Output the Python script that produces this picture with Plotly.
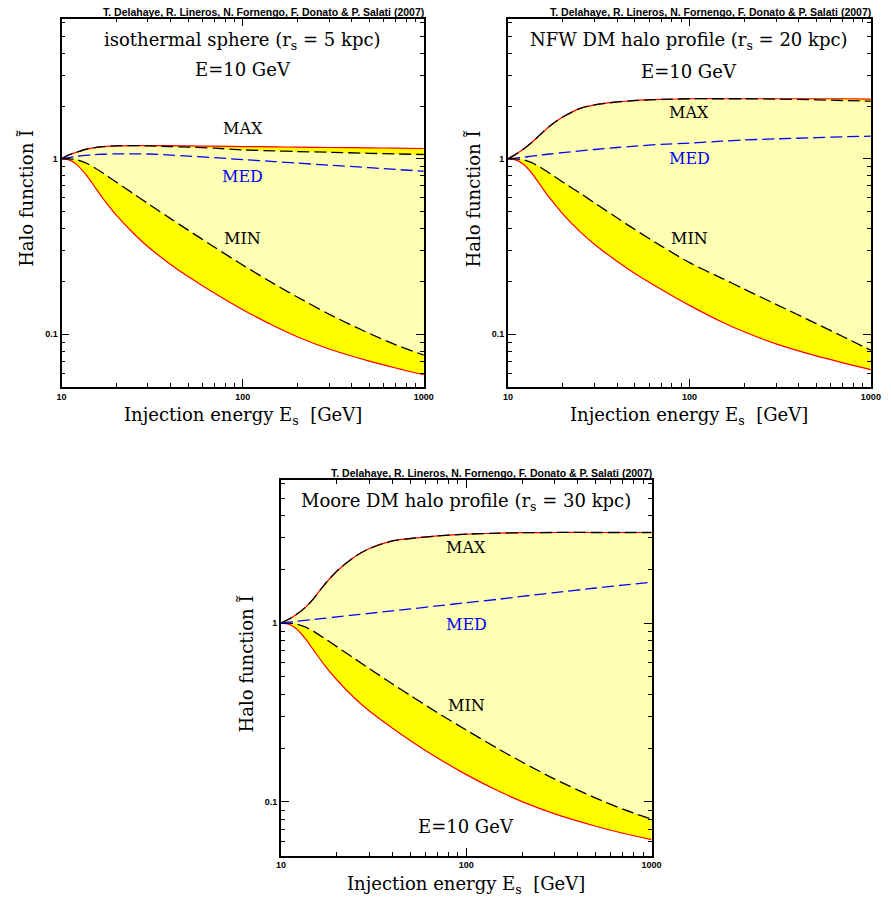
import plotly.graph_objects as go

# ---------------- data ----------------
E = [10, 11, 12, 13.5, 15, 17, 20, 25, 30, 40, 50, 70, 100, 150, 200, 300, 500, 700, 1000]

# isothermal sphere
iso_env_max = [1, 1.054, 1.086, 1.13, 1.155, 1.172, 1.185, 1.19, 1.19, 1.188, 1.185, 1.18, 1.175, 1.17, 1.165, 1.16, 1.155, 1.15, 1.145]
iso_max = [1, 1.054, 1.086, 1.13, 1.155, 1.172, 1.185, 1.19, 1.185, 1.175, 1.165, 1.15, 1.125, 1.11, 1.1, 1.09, 1.075, 1.066, 1.058]
iso_med = [1, 1.015, 1.03, 1.045, 1.055, 1.062, 1.067, 1.068, 1.065, 1.05, 1.035, 1.015, 0.99, 0.965, 0.945, 0.92, 0.89, 0.87, 0.85]
iso_min = [1, 1.0, 0.991, 0.951, 0.898, 0.827, 0.738, 0.632, 0.556, 0.456, 0.392, 0.313, 0.248, 0.193, 0.163, 0.130, 0.101, 0.087, 0.076]
iso_env_min = [1, 0.986, 0.936, 0.822, 0.709, 0.591, 0.479, 0.375, 0.315, 0.25, 0.213, 0.171, 0.138, 0.111, 0.0968, 0.0824, 0.0703, 0.0642, 0.0587]

# NFW
nfw_env_max = [1, 1.06, 1.125, 1.24, 1.37, 1.54, 1.73, 1.94, 2.03, 2.11, 2.15, 2.18, 2.2, 2.2, 2.2, 2.2, 2.2, 2.2, 2.19]
nfw_max = [1, 1.06, 1.125, 1.24, 1.37, 1.54, 1.73, 1.94, 2.03, 2.11, 2.15, 2.18, 2.2, 2.2, 2.2, 2.19, 2.17, 2.15, 2.13]
nfw_med = [1, 1.01, 1.02, 1.035, 1.05, 1.065, 1.085, 1.11, 1.13, 1.16, 1.18, 1.21, 1.23, 1.26, 1.28, 1.30, 1.32, 1.335, 1.346]
nfw_min = [1, 1.0, 0.991, 0.95, 0.897, 0.825, 0.738, 0.636, 0.56, 0.46, 0.395, 0.318, 0.256, 0.209, 0.181, 0.148, 0.115, 0.097, 0.081]
nfw_env_min = [1, 0.986, 0.94, 0.83, 0.712, 0.596, 0.486, 0.383, 0.325, 0.26, 0.222, 0.18, 0.146, 0.1178, 0.1032, 0.0881, 0.0752, 0.0687, 0.0628]

# Moore
moore_env_max = [1, 1.05, 1.11, 1.22, 1.37, 1.62, 1.95, 2.35, 2.61, 2.88, 2.97, 3.07, 3.14, 3.18, 3.2, 3.21, 3.21, 3.21, 3.21]
moore_max = [1, 1.05, 1.11, 1.22, 1.37, 1.62, 1.95, 2.35, 2.61, 2.88, 2.97, 3.07, 3.14, 3.18, 3.2, 3.21, 3.21, 3.21, 3.21]
moore_med = [1, 1.011, 1.021, 1.035, 1.047, 1.062, 1.082, 1.11, 1.133, 1.17, 1.2, 1.247, 1.3, 1.36, 1.41, 1.48, 1.57, 1.63, 1.69]
moore_min = [1, 1.0, 0.991, 0.951, 0.898, 0.827, 0.738, 0.632, 0.556, 0.456, 0.393, 0.315, 0.252, 0.197, 0.167, 0.134, 0.105, 0.091, 0.080]
moore_env_min = [1, 0.986, 0.935, 0.82, 0.705, 0.59, 0.482, 0.38, 0.322, 0.258, 0.22, 0.176, 0.142, 0.1146, 0.1003, 0.0857, 0.0731, 0.0668, 0.0615]

titles = ["isothermal sphere (r<sub>s</sub> = 5 kpc)",
          "NFW DM halo profile (r<sub>s</sub> = 20 kpc)",
          "Moore DM halo profile (r<sub>s</sub> = 30 kpc)"]
energy_label = "E=10 GeV"
citation = "T. Delahaye, R. Lineros, N. Fornengo, F. Donato & P. Salati (2007)"
x_title = "Injection energy E<sub>s</sub>  [GeV]"
y_title = "Halo function Ĩ"
x_major = [10, 100, 1000]
x_major_text = ["10", "100", "1000"]
x_minor = [20, 30, 40, 50, 60, 70, 80, 90, 200, 300, 400, 500, 600, 700, 800, 900]
y_major = [0.1, 1]
y_major_text = ["0.1", "1"]
y_minor = [0.06, 0.07, 0.08, 0.09, 0.2, 0.3, 0.4, 0.5, 0.6, 0.7, 0.8, 0.9, 2, 3, 4, 5, 6]

curves = [
    (iso_env_max, iso_max, iso_med, iso_min, iso_env_min),
    (nfw_env_max, nfw_max, nfw_med, nfw_min, nfw_env_min),
    (moore_env_max, moore_max, moore_med, moore_min, moore_env_min),
]

# ---------------- layout geometry (pixels) ----------------
W, H = 891, 900
panels = [
    dict(x0=57.5, x1=426.0, y0=18.5, y1=387.0, e_y=69, max_y=128, med_y=176, min_y=238),
    dict(x0=511.7, x1=880.7, y0=18.5, y1=387.0, e_y=71, max_y=113, med_y=158, min_y=238),
    dict(x0=280.7, x1=657.7, y0=480.0, y1=855.7, e_y=826, max_y=547, med_y=624, min_y=705),
]

def px(x):
    return x / W

def py(y):
    return 1 - y / H

LIGHT = "#FFFFB3"
BRIGHT = "#FFFF00"
SERIF = "DejaVu Serif"

fig = go.Figure()
annotations = []
layout_axes = {}

for i, (p, c) in enumerate(zip(panels, curves)):
    n = "" if i == 0 else str(i + 1)
    xa, ya = "x" + n, "y" + n
    env_max, bmax, med, bmin, env_min = c
    common = dict(x=E, xaxis=xa, yaxis=ya, mode="lines", showlegend=False,
                  hoverinfo="skip", line_shape="spline")
    # fills
    fig.add_trace(go.Scatter(y=env_min, line=dict(width=0, color=BRIGHT, smoothing=0.8), **common))
    fig.add_trace(go.Scatter(y=env_max, fill="tonexty", fillcolor=BRIGHT,
                             line=dict(width=0, color=BRIGHT, smoothing=0.8), **common))
    fig.add_trace(go.Scatter(y=bmin, line=dict(width=0, color=LIGHT, smoothing=0.8), **common))
    fig.add_trace(go.Scatter(y=bmax, fill="tonexty", fillcolor=LIGHT,
                             line=dict(width=0, color=LIGHT, smoothing=0.8), **common))
    # lines
    fig.add_trace(go.Scatter(y=env_max, line=dict(width=1.2, color="red", smoothing=0.8), **common))
    fig.add_trace(go.Scatter(y=env_min, line=dict(width=1.2, color="red", smoothing=0.8), **common))
    fig.add_trace(go.Scatter(y=bmax, line=dict(width=1.3, color="black", dash="12px,5px", smoothing=0.8), **common))
    fig.add_trace(go.Scatter(y=bmin, line=dict(width=1.3, color="black", dash="12px,5px", smoothing=0.8), **common))
    fig.add_trace(go.Scatter(y=med, line=dict(width=1.3, color="blue", dash="12px,5px", smoothing=0.8), **common))

    axis_common = dict(type="log", showline=True, linecolor="black", linewidth=1.8,
                       mirror="ticks", ticks="inside", ticklen=8, tickwidth=1.1,
                       tickcolor="black", showgrid=False, zeroline=False,
                       tickfont=dict(family="Liberation Sans", size=9, color="black", weight="bold"),
                       minor=dict(ticks="inside", ticklen=4, tickwidth=1, tickcolor="black",
                                  showgrid=False))
    xcfg = dict(axis_common)
    xcfg.update(domain=[px(p["x0"]), px(p["x1"])], range=[1, 3], anchor=ya,
                tickmode="array", tickvals=x_major, ticktext=x_major_text)
    xcfg["minor"] = dict(axis_common["minor"], tickmode="array", tickvals=x_minor)
    ycfg = dict(axis_common)
    ycfg.update(domain=[py(p["y1"]), py(p["y0"])], range=[-1.301, 0.8], anchor=xa,
                tickmode="array", tickvals=y_major, ticktext=y_major_text)
    ycfg["minor"] = dict(axis_common["minor"], tickmode="array", tickvals=y_minor)
    layout_axes["xaxis" + n] = xcfg
    layout_axes["yaxis" + n] = ycfg

    cx = (p["x0"] + p["x1"]) / 2
    # citation
    annotations.append(dict(text=citation, x=px(p["x1"] + 2), y=py(p["y0"] - 7),
                            xanchor="right", yanchor="middle",
                            font=dict(family="Liberation Sans", size=10.5, color="black", weight="bold")))
    # panel title
    annotations.append(dict(text=titles[i], x=px(cx), y=py(p["y0"] + 22),
                            xanchor="center", yanchor="middle",
                            font=dict(family=SERIF, size=18, color="black")))
    annotations.append(dict(text=energy_label, x=px(cx), y=py(p["e_y"]),
                            xanchor="center", yanchor="middle",
                            font=dict(family=SERIF, size=18, color="black")))
    for lab, yy, col in (("MAX", p["max_y"], "black"), ("MED", p["med_y"], "blue"),
                         ("MIN", p["min_y"], "black")):
        annotations.append(dict(text=lab, x=px(cx), y=py(yy), xanchor="center",
                                yanchor="middle", font=dict(family=SERIF, size=16, color=col)))
    # axis titles
    annotations.append(dict(text=x_title, x=px(cx), y=py(p["y1"] + 29),
                            xanchor="center", yanchor="middle",
                            font=dict(family=SERIF, size=18, color="black")))
    annotations.append(dict(text=y_title, x=px(p["x0"] - 35), y=py((p["y0"] + p["y1"]) / 2 - 4),
                            xanchor="center", yanchor="middle", textangle=-90,
                            font=dict(family=SERIF, size=18, color="black")))

for a in annotations:
    a.update(xref="paper", yref="paper", showarrow=False)

fig.update_layout(width=W, height=H, margin=dict(l=0, r=0, t=0, b=0),
                  paper_bgcolor="white", plot_bgcolor="white",
                  annotations=annotations, **layout_axes)

fig.write_html("out.html")
